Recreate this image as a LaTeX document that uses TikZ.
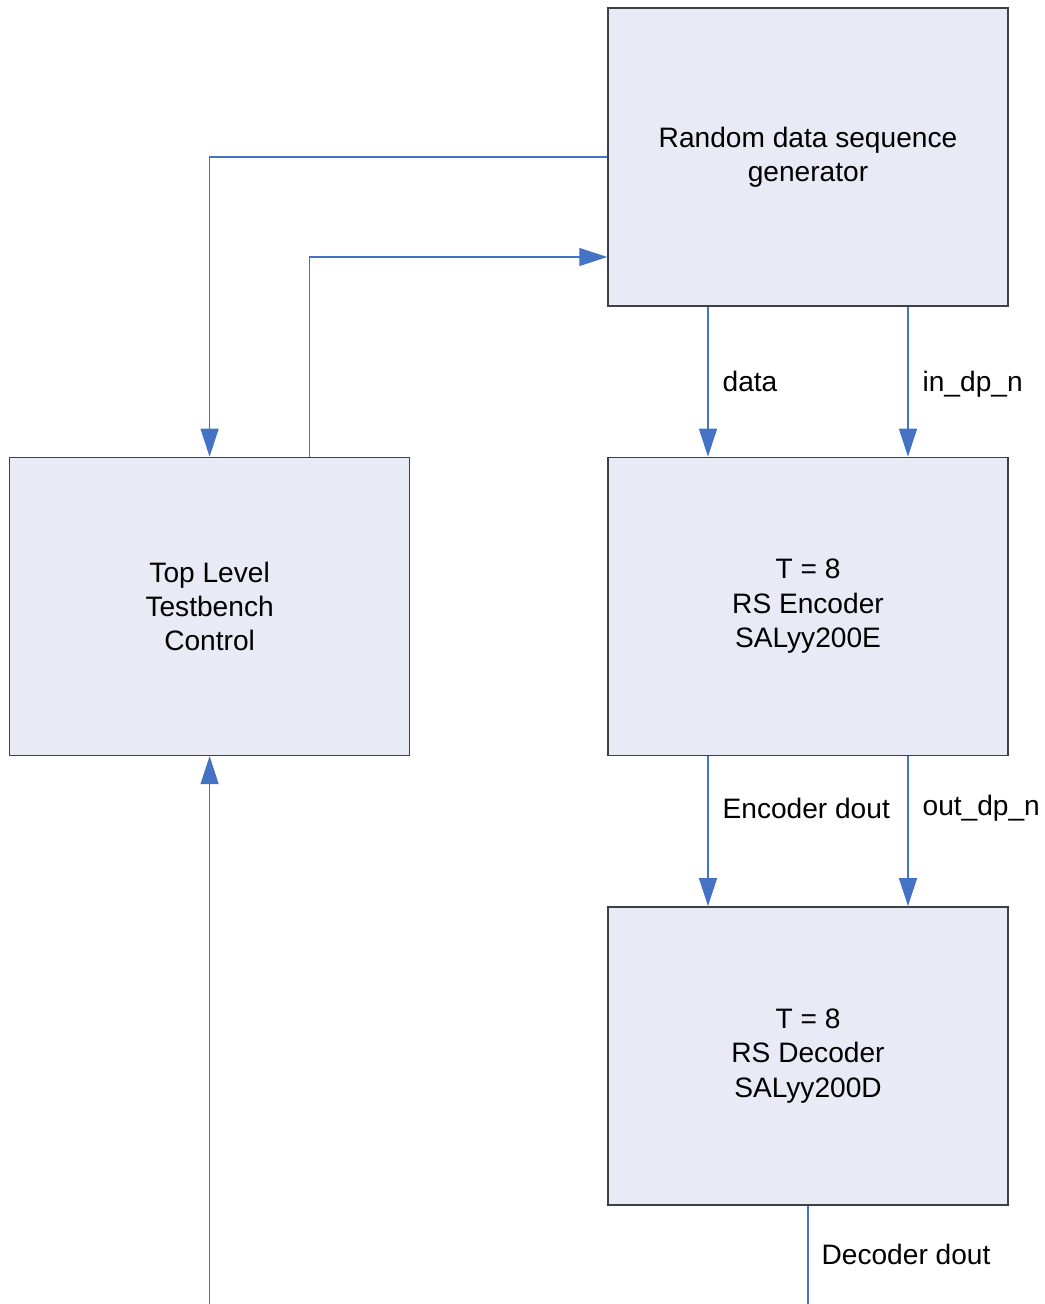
\documentclass[tikz,border=0pt]{standalone}
\usepackage{fontspec}
\setmainfont{Liberation Sans}
\usetikzlibrary{positioning,arrows.meta}

\tikzset{
  block/.style={draw=black!75, fill=blockfill, line width=0.4pt,
    minimum width=4cm, minimum height=2.98cm, inner sep=0pt,
    align=center, font=\fontsize{8}{9.8}\selectfont},
  sig/.style={draw=sigblue, line width=0.35pt},
  sigarrow/.style={sig, -{Triangle[length=0.28cm, width=0.18cm, fill=sigblue]}},
  lbl/.style={font=\fontsize{8}{9.8}\selectfont, inner sep=0pt}
}
\definecolor{blockfill}{RGB}{232,235,245}
\definecolor{sigblue}{RGB}{68,114,196}

\begin{document}
\begin{tikzpicture}
      \useasboundingbox (0,0) rectangle (10.44,-13.04);
        \node[block] (rng) at (8.08,-1.57) {Random data sequence\\generator};
        \node[block, below=1.5cm of rng] (enc) {T = 8\\RS Encoder\\SALyy200E};
        \node[block, below=1.5cm of enc] (dec) {T = 8\\RS Decoder\\SALyy200D};
        \node[block, left=1.97cm of enc] (tb) {Top Level\\Testbench\\Control};
        \coordinate (dout) at (8.08,-13.04);
        \coordinate (tbin) at (tb.south |- dout);

        \draw[sigarrow] (rng.west) -| (tb.north);
        \draw[sigarrow] ([xshift=1cm]tb.north) |- ([yshift=-1cm]rng.west);
        \draw[sigarrow] ([xshift=-1cm]rng.south) -- node[lbl, midway, right=0.14cm] {data} ([xshift=-1cm]enc.north);
        \draw[sigarrow] ([xshift=1cm]rng.south) -- node[lbl, pos=0.52, right=0.14cm] {in\_dp\_n} ([xshift=1cm]enc.north);
        \draw[sigarrow] ([xshift=-1cm]enc.south) -- node[lbl, pos=0.35, right=0.14cm] {Encoder dout} ([xshift=-1cm]dec.north);
        \draw[sigarrow] ([xshift=1cm]enc.south) -- node[lbl, pos=0.35, right=0.14cm] {out\_dp\_n} ([xshift=1cm]dec.north);
        \draw[sig] (dec.south) -- node[lbl, midway, right=0.13cm] {Decoder dout} (dout);
        \draw[sigarrow] (tbin) -- (tb.south);
\end{tikzpicture}
\end{document}
